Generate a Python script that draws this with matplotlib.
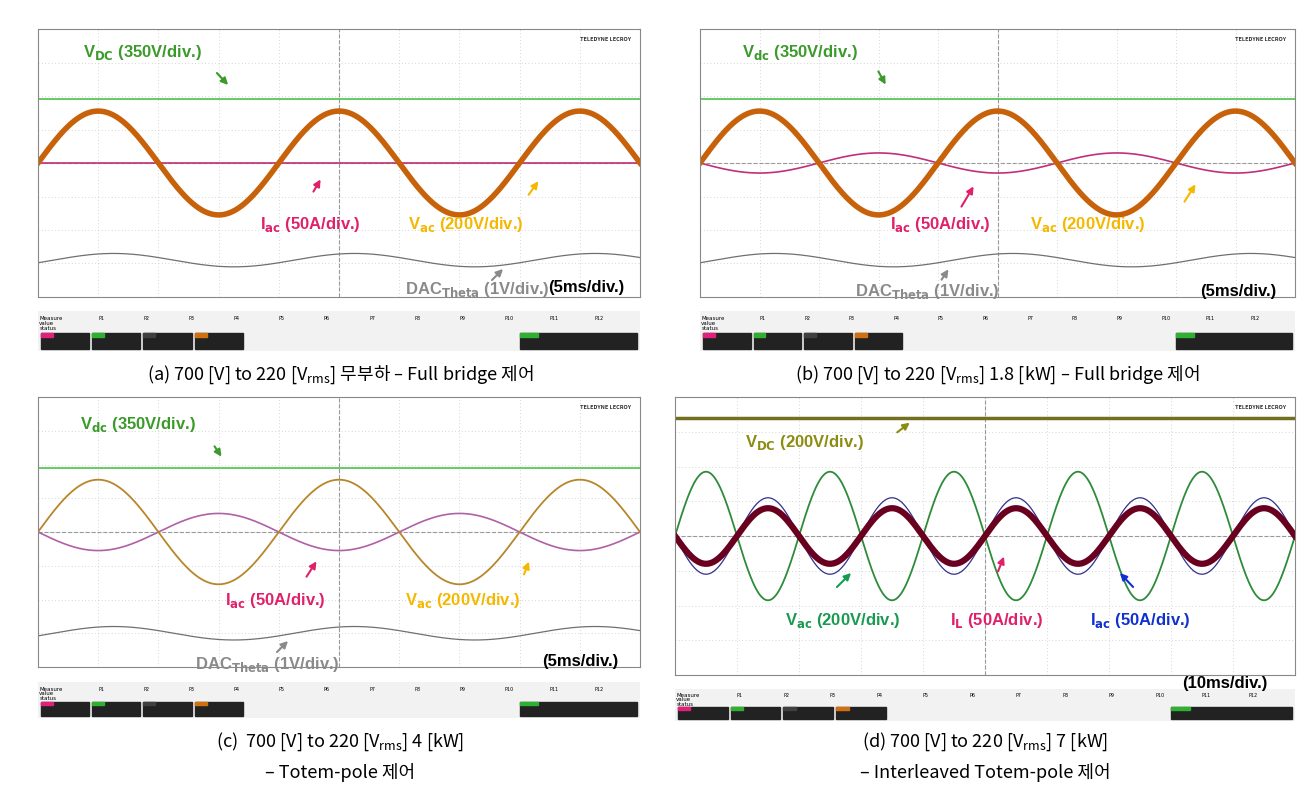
import numpy as np
import matplotlib
matplotlib.use("Agg")
import matplotlib.pyplot as plt
from matplotlib.patches import Rectangle, FancyArrowPatch

plt.rcParams['font.family'] = ['Noto Sans CJK KR', 'DejaVu Sans']

W, H = 1315, 804

# panel data (levels and amplitudes in scope divisions)
panels = ['a', 'b', 'c', 'd']
time_span_ms = [50, 50, 50, 100]
line_freq_hz = [50, 50, 50, 50]
vdc_level = [1.9, 1.9, 1.9, 3.4]
vac_amp = [1.55, 1.55, 1.55, 1.85]
iac_amp = [0.0, 0.3, 0.55, 1.1]
il_amp = [None, None, None, 0.8]
dac_level = [-2.9, -2.9, -3.0, None]
dac_amp = [0.2, 0.2, 0.2, None]
rects = [(38, 30, 640, 298), (700, 30, 1295, 298), (38, 398, 640, 668), (675, 398, 1295, 676)]
strip_top = [312, 312, 683, 690]
strip_h = [40, 40, 36, 32]

captions = [
    ["(a) 700 [V] to 220 [V$_{\\mathregular{rms}}$] 무부하 – Full bridge 제어"],
    ["(b) 700 [V] to 220 [V$_{\\mathregular{rms}}$] 1.8 [kW] – Full bridge 제어"],
    ["(c)  700 [V] to 220 [V$_{\\mathregular{rms}}$] 4 [kW]", "– Totem-pole 제어"],
    ["(d) 700 [V] to 220 [V$_{\\mathregular{rms}}$] 7 [kW]", "– Interleaved Totem-pole 제어"],
]
caption_pos = [[(340, 375)], [(997, 375)], [(340, 742), (340, 773)], [(985, 742), (985, 773)]]

GREEN, PINK, ORANGE, GREY = '#3a9a2a', '#e0206a', '#f5b800', '#8a8a8a'
labels = [
    [(r'V$_{\bf DC}$ (350V/div.)', GREEN, (83, 52), (215, 72), (230, 88)),
     (r'I$_{\bf ac}$ (50A/div.)', PINK, (260, 225), (312, 195), (322, 178)),
     (r'V$_{\bf ac}$ (200V/div.)', ORANGE, (408, 225), (527, 198), (540, 180)),
     (r'DAC$_{\bf Theta}$ (1V/div.)', GREY, (405, 290), (490, 283), (505, 268))],
    [(r'V$_{\bf dc}$ (350V/div.)', GREEN, (742, 52), (877, 70), (887, 88)),
     (r'I$_{\bf ac}$ (50A/div.)', PINK, (890, 225), (960, 210), (975, 185)),
     (r'V$_{\bf ac}$ (200V/div.)', ORANGE, (1030, 225), (1183, 205), (1197, 183)),
     (r'DAC$_{\bf Theta}$ (1V/div.)', GREY, (855, 292), (940, 283), (950, 268))],
    [(r'V$_{\bf dc}$ (350V/div.)', GREEN, (80, 425), (213, 445), (223, 460)),
     (r'I$_{\bf ac}$ (50A/div.)', PINK, (225, 600), (305, 580), (318, 560)),
     (r'V$_{\bf ac}$ (200V/div.)', ORANGE, (405, 600), (523, 578), (530, 560)),
     (r'DAC$_{\bf Theta}$ (1V/div.)', GREY, (195, 665), (275, 655), (290, 640))],
    [(r'V$_{\bf DC}$ (200V/div.)', '#8c8c10', (745, 443), (895, 435), (912, 422)),
     (r'V$_{\bf ac}$ (200V/div.)', '#1a9a50', (785, 620), (835, 590), (853, 572)),
     (r'I$_{\bf L}$ (50A/div.)', PINK, (950, 620), (997, 575), (1005, 555)),
     (r'I$_{\bf ac}$ (50A/div.)', '#1030d0', (1090, 620), (1135, 590), (1118, 572))],
]
timebase = ['(5ms/div.)', '(5ms/div.)', '(5ms/div.)', '(10ms/div.)']
timebase_pos = [(548, 288), (1200, 292), (542, 662), (1182, 684)]

fig = plt.figure(figsize=(W / 100, H / 100), dpi=100)


def px2fig(x, y):
    return x / W, 1 - y / H


for i, p in enumerate(panels):
    x0, y0, x1, y1 = rects[i]
    ax = fig.add_axes([x0 / W, 1 - y1 / H, (x1 - x0) / W, (y1 - y0) / H])
    span = time_span_ms[i]
    t = np.linspace(-span / 2, span / 2, 2000)
    ph = 2 * np.pi * line_freq_hz[i] * (t + span / 2) / 1000
    ax.set_xlim(-span / 2, span / 2)
    ax.set_ylim(-4, 4)
    for k in range(1, 10):
        ax.axvline(-span / 2 + k * span / 10, color='#c8c8c8', lw=0.6, ls=(0, (1, 3)))
    for k in range(1, 8):
        ax.axhline(-4 + k, color='#c8c8c8', lw=0.6, ls=(0, (1, 3)))
    ax.axvline(0, color='#999999', lw=0.8, ls='--')
    ax.axhline(0, color='#999999', lw=0.8, ls='--')
    for s in ax.spines.values():
        s.set_color('#888888')
        s.set_linewidth(0.8)
    ax.set_xticks([])
    ax.set_yticks([])
    ax.text(0.985, 0.975, 'TELEDYNE LECROY', transform=ax.transAxes, ha='right', va='top',
            fontsize=4, weight='bold', color='#333333')

    vac = vac_amp[i] * np.sin(ph)
    if p in 'abc':
        ax.axhline(vdc_level[i], color='#4cc24c', lw=1.2)
        ax.plot(t, dac_level[i] + dac_amp[i] * np.sin(ph - 0.4), color='#707070', lw=0.9)
        ax.plot(t, -iac_amp[i] * np.sin(ph), color='#c0307a' if p != 'c' else '#b060a8', lw=1.2)
        ax.plot(t, vac, color='#c8620a' if p != 'c' else '#b8862a', lw=4 if p != 'c' else 1.3)
    else:
        ax.axhline(vdc_level[i], color='#707020', lw=2.5)
        ax.plot(t, vac, color='#2e8b3a', lw=1.3)
        ax.plot(t, -iac_amp[i] * np.sin(ph), color='#303090', lw=0.9)
        ax.plot(t, -il_amp[i] * np.sin(ph), color='#6a0020', lw=4.5)

    for txt, col, tp, a0, a1 in labels[i]:
        fig.text(*px2fig(*tp), txt, color=col, fontsize=12, weight='bold',
                 family='Liberation Sans', va='center')
        fig.add_artist(FancyArrowPatch(
            px2fig(*a0), px2fig(*a1), transform=fig.transFigure, color=col,
            arrowstyle='-|>', mutation_scale=10, lw=1.5))
    fig.text(*px2fig(*timebase_pos[i]), timebase[i], fontsize=12, weight='bold',
             family='Liberation Sans', va='center')

    # measurement strip
    sy, sh = strip_top[i], strip_h[i]
    sax = fig.add_axes([x0 / W, 1 - (sy + sh) / H, (x1 - x0) / W, sh / H])
    sax.set_xlim(0, 1)
    sax.set_ylim(0, 1)
    sax.axis('off')
    sax.add_patch(Rectangle((0, 0), 1, 1, color='#f2f2f2'))
    for k, lab in enumerate(['Measure', 'value', 'status']):
        sax.text(0.002, 0.9 - k * 0.13, lab, fontsize=4, va='top', family='DejaVu Sans')
    for k in range(12):
        sax.text(0.1 + k * 0.075, 0.9, f'P{k + 1}', fontsize=3.5, va='top', family='DejaVu Sans')
    cols = ['#e0207a', '#30b030', '#404040', '#d07010']
    for k, c in enumerate(cols):
        sax.add_patch(Rectangle((0.005 + k * 0.085, 0.05), 0.08, 0.4, color='#222222'))
        sax.add_patch(Rectangle((0.005 + k * 0.085, 0.35), 0.02, 0.1, color=c))
    sax.add_patch(Rectangle((0.8, 0.05), 0.195, 0.4, color='#222222'))
    sax.add_patch(Rectangle((0.8, 0.35), 0.03, 0.1, color='#30b030'))

    for cap, cp in zip(captions[i], caption_pos[i]):
        fig.text(*px2fig(*cp), cap, fontsize=13, ha='center', va='center')

fig.savefig('out.png', dpi=100, facecolor='white')
